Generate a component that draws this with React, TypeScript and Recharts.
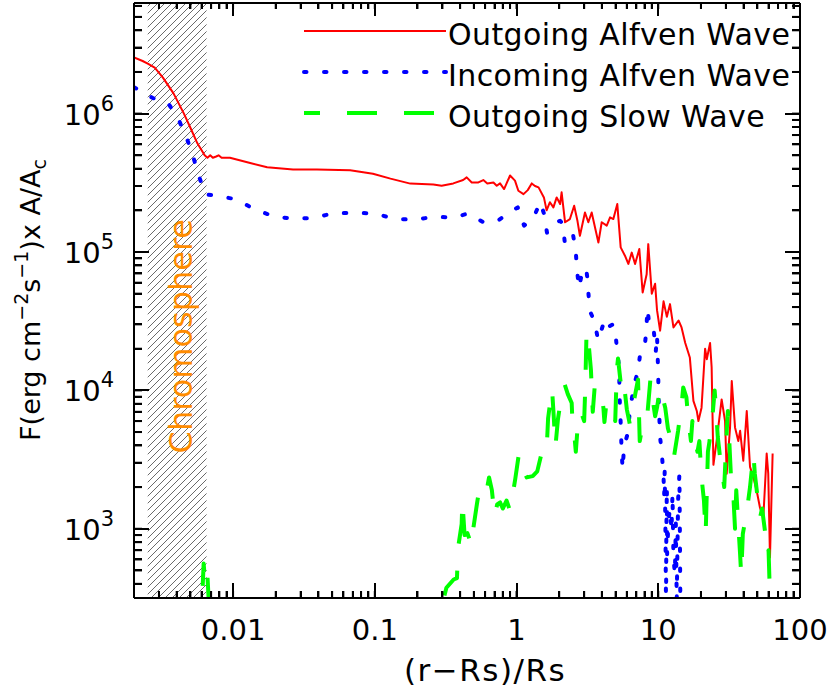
import React from "react";
import { LineChart, Line, XAxis, YAxis, ReferenceArea, Legend } from "recharts";

const FONT = "'DejaVu Sans', 'Liberation Sans', sans-serif";

// Outgoing Alfven wave
const outAlfR = [
  0.002, 0.0023, 0.0025, 0.0028, 0.0032, 0.0038, 0.0045, 0.005, 0.0056, 0.0063, 0.0066, 0.0069,
  0.0072, 0.0076, 0.0079, 0.0083, 0.0095, 0.0132, 0.0174, 0.0265, 0.039, 0.067, 0.097, 0.129,
  0.178, 0.259, 0.296, 0.358, 0.42, 0.445, 0.483, 0.538, 0.583, 0.622, 0.687, 0.725, 0.765,
  0.817, 0.9, 0.975, 1.03, 1.12, 1.2, 1.28, 1.35, 1.43, 1.56, 1.63, 1.72, 1.82, 1.92, 2.03,
  2.08, 2.2, 2.38, 2.55, 2.69, 2.8, 3.04, 3.21, 3.39, 3.78, 3.99, 4.33, 4.57, 4.82, 5.14,
  5.43, 5.82, 6.15, 6.5, 6.86, 7.35, 7.76, 8.28, 8.5, 9.0, 9.5, 9.8, 10.3, 10.9, 11.5, 12.1,
  12.8, 13.9, 14.6, 15.5, 16.7, 17.7, 18.7, 19.2, 20.2, 21.4, 22.0, 23.2, 23.8, 24.5, 25.8,
  28.0, 29.6, 30.4, 32.1, 33.0, 34.8, 36.7, 37.8, 39.8, 42.1, 44.4, 46.9, 49.4, 52.2, 55.1,
  58.2, 59.7, 61.4, 64.1,
];
const outAlfF = [
  2.55e6, 2.4e6, 2.3e6, 2.15e6, 1.82e6, 1.4e6, 1.0e6, 7.9e5, 6.1e5, 5.0e5, 4.8e5, 5.0e5,
  4.8e5, 4.9e5, 5.0e5, 4.8e5, 4.8e5, 4.4e5, 4.1e5, 3.94e5, 3.94e5, 3.9e5, 3.68e5, 3.39e5,
  3.12e5, 3.07e5, 3.01e5, 3.13e5, 3.31e5, 3.46e5, 3.18e5, 3.18e5, 3.31e5, 3.13e5, 3.18e5, 3.01e5, 3.13e5,
  2.85e5, 3.57e5, 3.28e5, 2.77e5, 2.62e5, 2.8e5, 3.13e5, 3.0e5, 2.93e5, 2.48e5, 2.0e5, 2.29e5, 2.1e5, 2.48e5, 2.22e5,
  2.7e5, 1.64e5, 1.73e5, 2.16e5, 1.68e5, 1.31e5, 1.93e5, 1.64e5, 1.93e5, 1.17e5, 1.64e5, 1.55e5, 1.78e5, 1.73e5, 2.22e5,
  1.08e5, 9.4e4, 8.2e4, 9.9e4, 8.2e4, 1.05e5, 5.1e4, 6.9e4, 1.14e5, 5.0e4, 5.9e4, 3.8e4, 2.7e4, 4.4e4, 3.4e4, 4.2e4,
  2.85e4, 3.2e4, 2.85e4, 2.2e4, 1.73e4, 8.4e3, 7.1e3, 6.0e3, 7.5e3, 2.0e4, 1.68e4, 2.2e4, 1.47e4, 2.9e3, 4.3e3,
  8.6e3, 6.0e3, 2.5e3, 5.4e3, 1.17e4, 5.4e3, 4.3e3, 5.1e3, 3.1e3, 7.1e3, 2.8e3, 2.35e3, 1.9e3, 1.42e3, 1.2e3,
  3.5e3, 2.5e3, 620, 3.5e3,
];

// Incoming Alfven wave
const inAlfR = [
  0.002, 0.0027, 0.0035, 0.0041, 0.0047, 0.0052, 0.0057, 0.0064, 0.0078, 0.0105, 0.014, 0.019,
  0.026, 0.036, 0.051, 0.071, 0.099, 0.137, 0.192, 0.266, 0.363, 0.455, 0.59, 0.753, 0.87,
  1.02, 1.13, 1.31, 1.47, 1.56, 1.64, 1.72, 1.84, 2.03, 2.12, 2.19, 2.36, 2.5, 2.62, 2.67,
  2.76, 2.85, 2.95, 3.09, 3.16, 3.2, 3.27, 3.35, 3.57, 3.76, 4.07, 4.3, 4.5, 4.79, 4.95, 5.1,
  5.3, 5.32, 5.37, 5.45, 5.5, 5.6, 5.75, 6.1, 6.3, 6.6, 6.75, 7.2, 7.4, 7.8, 8.0, 8.2, 8.4,
  8.7, 9.3, 9.6, 9.8, 9.9, 10.0, 10.05, 10.2, 10.3, 10.6, 10.9, 11.0, 11.1, 11.2, 11.25,
  11.3, 11.35, 11.4, 11.5, 11.55, 11.8, 12.1, 12.4, 12.6, 12.8, 13.1, 13.3, 13.5, 13.8, 14.1, 14.2,
  14.3, 14.4,
];
const inAlfF = [
  1.55e6, 1.3e6, 1.18e6, 9.2e5, 6.7e5, 5.0e5, 3.6e5, 2.6e5, 2.55e5, 2.4e5, 2.05e5, 1.82e5,
  1.74e5, 1.76e5, 1.9e5, 1.92e5, 1.9e5, 1.74e5, 1.71e5, 1.8e5, 1.77e5, 1.9e5, 1.63e5, 1.71e5, 1.9e5,
  2.1e5, 1.55e5, 1.74e5, 2.3e5, 1.9e5, 1.38e5, 1.5e5, 1.63e5, 1.68e5, 1.6e5, 1.17e5, 1.17e5, 1.35e5, 1.0e5, 7.4e4,
  5.5e4, 6.5e4, 7.1e4, 7.7e4, 6.5e4, 5.4e4, 4.0e4, 3.6e4, 3.1e4, 2.3e4, 2.95e4, 2.6e4, 2.9e4, 3.0e4, 2.8e4, 2.05e4,
  1.45e4, 1.05e4, 7.4e3, 5.4e3, 3.9e3, 2.7e3, 4.0e3, 4.9e3, 7.1e3, 9.5e3, 1.1e4, 1.38e4, 1.74e4, 1.9e4, 2.0e4, 2.6e4, 3.9e4,
  2.75e4, 2.7e4, 1.9e4, 2.5e4, 1.8e4, 1.25e4, 8.9e3, 6.0e3, 4.6e3, 3.5e3, 2.35e3, 1.7e3, 2.6e3, 1.28e3, 860,
  445, 280, 900, 2.0e3, 655, 1.14e3, 1.4e3, 965, 1.8e3, 620, 470, 1.1e3, 300, 1.6e3, 2.5e3, 1.0e3,
  336, 200,
];

// Outgoing slow wave
const slowR = [
  0.0058, 0.006, 0.0062, 0.0064, 0.0066, 0.0068, 0.007, 0.29, 0.303, 0.32, 0.36, 0.38, 0.386,
  0.41, 0.415, 0.43, 0.45, 0.485, 0.49, 0.525, 0.54, 0.58, 0.61, 0.64, 0.67, 0.7, 0.73, 0.766,
  0.8, 0.85, 0.9, 0.98, 1.04, 1.1, 1.18, 1.3, 1.4, 1.51, 1.57, 1.64, 1.67, 1.78, 1.83, 1.88,
  1.96, 2.09, 2.19, 2.3, 2.45, 2.5, 2.58, 2.62, 2.74, 2.85, 3.0, 3.05, 3.12, 3.2, 3.35, 3.45,
  3.57, 3.78, 4.0, 4.1, 4.17, 4.3, 4.6, 4.97, 5.1, 5.2, 5.4, 5.6, 5.8, 6.0, 6.3, 6.6, 7.2,
  7.4, 7.8, 8.3, 8.8, 9.2, 9.5, 9.8, 10.3, 11.2, 11.7, 12.2, 12.9, 13.8, 14.7, 15.0, 15.8,
  16.2, 17.0, 17.4, 18.0, 18.9, 19.5, 20.2, 21.0, 21.6, 22.4, 23.0, 24.3, 25.0, 25.6, 26.3,
  27.6, 28.5, 29.2, 30.5, 31.0, 31.7, 32.5, 33.2, 34.0, 34.8, 35.5, 37.8, 38.5, 39.5, 42.0,
  44.4, 46.9, 48.0, 50.5, 52.2, 54.0, 57.0, 59.0, 60.0, 61.0, 62.5, 63.5,
];
const slowF = [
  150, 250, 560, 380, 450, 250, 150, 150, 300, 375, 430, 440, 716,
  1.08e3, 1.6e3, 900, 930, 750, 930, 1.5e3, 1.8e3, 2.0e3, 1.8e3, 2.35e3, 1.9e3, 1.23e3, 1.5e3, 1.55e3,
  1.4e3, 1.6e3, 1.35e3, 2.3e3, 3.5e3, 2.8e3, 2.35e3, 2.4e3, 2.6e3, 3.6e3, 3.4e3, 4.2e3, 6.3e3, 1.03e4, 6.5e3, 3.9e3,
  6.2e3, 9.6e3, 1.1e4, 9.4e3, 8.1e3, 4.9e3, 4.3e3, 3.6e3, 6.8e3, 7.0e3, 6.0e3, 1.0e4, 2.7e4, 2.4e4, 1.4e4, 7.0e3,
  1.1e4, 1.0e4, 8.8e3, 7.5e3, 5.9e3, 8.0e3, 8.2e3, 6.0e3, 1.4e4, 1.7e4, 1.2e4, 8.9e3, 1.0e4, 7.3e3, 5.7e3, 7.5e3, 1.2e4,
  4.3e3, 5.8e3, 6.0e3, 1.2e4, 8.2e3, 6.5e3, 7.5e3, 1.05e4, 7.5e3, 5.3e3, 4.6e3, 3.3e3, 5.1e3, 8.4e3, 1.05e4, 8.9e3,
  6.5e3, 4.3e3, 6.0e3, 4.6e3, 3.6e3, 4.3e3, 2.35e3, 1.6e3, 920, 3.6e3, 4.3e3, 7.1e3, 1.0e4, 7.1e3, 4.6e3,
  2.95e3, 2.4e3, 2.0e3, 5.4e3, 7.1e3, 4.3e3, 2.5e3, 2.0e3, 1.6e3, 1.0e3, 1.9e3, 650, 460, 920, 1.3e3,
  2.0e3, 3.5e3, 2.5e3, 1.6e3, 1.2e3, 1.4e3, 910, 650, 700, 400, 300, 250,
];

const X_DOMAIN: [number, number] = [0.002, 100];
const Y_DOMAIN: [number, number] = [316, 6.3e6];
const CHROMO: [number, number] = [0.0025, 0.0065];

const SERIES = [
  { name: "Outgoing Alfven Wave", color: "#ff0000", width: 2, dash: undefined as string | undefined, cap: "butt", legendOffset: 0 },
  { name: "Incoming Alfven Wave", color: "#0000ff", width: 4, dash: "2.5 17.5", cap: "round", legendOffset: 0 },
  { name: "Outgoing Slow Wave", color: "#00ff00", width: 4, dash: "30 27", cap: "butt", legendOffset: 14 },
];

const zip = (r: number[], f: number[]) => r.map((v, i) => ({ r: v, f: f[i] }));
const outAlfData = zip(outAlfR, outAlfF);
const inAlfData = zip(inAlfR, inAlfF);
const slowData = zip(slowR, slowF);
const seriesData = [outAlfData, inAlfData, slowData];

// chart box
const W = 830;
const H = 692;
const AX_LEFT = 134;
const AX_RIGHT = 30;
const AX_BOTTOM = 94;
const AX_TOP = 3;
const PLOT = { l: AX_LEFT, r: W - AX_RIGHT, t: AX_TOP, b: H - AX_BOTTOM };
const MINOR = 7; // inward tick length drawn by the axes themselves

// log ticks: 1..9 x each decade inside the domain
function logTicks(lo: number, hi: number) {
  const out: number[] = [];
  for (let e = -4; e <= 8; e++) {
    for (let m = 1; m <= 9; m++) {
      const v = Number((m * Math.pow(10, e)).toPrecision(3));
      if (v > lo * 1.0001 && v <= hi * 1.0001) out.push(v);
    }
  }
  return out;
}
const xTicks = logTicks(X_DOMAIN[0], X_DOMAIN[1]);
const yTicks = logTicks(Y_DOMAIN[0], Y_DOMAIN[1]);

const isMajor = (v: number) => {
  const l = Math.log10(v);
  return Math.abs(l - Math.round(l)) < 1e-6;
};

// longer marks for the decades
const logPos = (v: number, d: [number, number], a: number, b: number) =>
  Math.round(a + ((Math.log10(v) - Math.log10(d[0])) / (Math.log10(d[1]) - Math.log10(d[0]))) * (b - a));

function FrameTicks() {
  const rects: React.ReactNode[] = [];
  xTicks.forEach((v, i) => {
    const x = logPos(v, X_DOMAIN, PLOT.l, PLOT.r);
    const m = isMajor(v);
    const lb = m ? 15 : 7;
    const lt = m ? 13 : 6;
    rects.push(<rect key={`xb${i}`} x={x - 1} y={PLOT.b - lb} width={2} height={lb} fill="#000" />);
    rects.push(<rect key={`xt${i}`} x={x - 1} y={PLOT.t} width={2} height={lt} fill="#000" />);
  });
  yTicks.forEach((v, i) => {
    const y = logPos(v, Y_DOMAIN, PLOT.b, PLOT.t);
    const len = isMajor(v) ? 15 : 8;
    rects.push(<rect key={`yl${i}`} x={PLOT.l} y={y - 1} width={len} height={2} fill="#000" />);
    rects.push(<rect key={`yr${i}`} x={PLOT.r - len} y={y - 1} width={len} height={2} fill="#000" />);
  });
  return <g>{rects}</g>;
}

function NoLabel() {
  return <g />;
}

function BottomLabel(props: any) {
  const { payload } = props;
  if (!isMajor(payload.value)) return <g />;
  return (
    <text x={payload.coordinate} y={PLOT.b + 42} textAnchor="middle" fontSize={29} fontFamily={FONT} fill="#000">
      {String(payload.value)}
    </text>
  );
}

function LeftLabel(props: any) {
  const { payload } = props;
  if (!isMajor(payload.value)) return <g />;
  const exp = Math.round(Math.log10(payload.value));
  return (
    <text x={PLOT.l - 20} y={payload.coordinate + 11} textAnchor="end" fontSize={29} fontFamily={FONT} fill="#000">
      10
      <tspan dy={-14} fontSize={21}>{exp}</tspan>
    </text>
  );
}

function ChromoLabel(props: any) {
  const vb = props.viewBox || { x: 148, y: 3, width: 58, height: 595 };
  const cx = vb.x + vb.width / 2 + 3;
  const cy = vb.y + vb.height * 0.56;
  return (
    <text
      x={cx}
      y={cy}
      transform={`rotate(-90 ${cx} ${cy})`}
      textAnchor="middle"
      dy="0.36em"
      fontSize={32}
      fontFamily={FONT}
      fill="#ff8c00"
    >
      Chromosphere
    </text>
  );
}

function WaveLegend() {
  return (
    <svg width={W} height={140} style={{ display: "block" }}>
      {SERIES.map((s, i) => {
        const y = 31 + i * 41;
        return (
          <g key={s.name}>
            <line
              x1={304}
              x2={446}
              y1={y}
              y2={y}
              stroke={s.color}
              strokeWidth={s.width}
              strokeDasharray={s.dash}
              strokeDashoffset={s.legendOffset}
              strokeLinecap={s.cap as any}
            />
            <text x={448} y={y + 14} fontSize={30} fontFamily={FONT} fill="#000" letterSpacing={0.4}>
              {s.name}
            </text>
          </g>
        );
      })}
    </svg>
  );
}

const AXIS_LINE = { stroke: "#000", strokeWidth: 2 };
const TICK_LINE = { stroke: "#000", strokeWidth: 2 };

export default function App() {
  return (
    <div style={{ position: "absolute", left: 0, top: 0, background: "#fff" }}>
      <LineChart width={W} height={H} margin={{ top: 0, right: 0, bottom: 0, left: 0 }}>
        <defs>
          <pattern id="hatch" patternUnits="userSpaceOnUse" width="7" height="7">
            <path d="M-1,1 l2,-2 M0,7 l7,-7 M6,8 l2,-2" stroke="#444" strokeWidth="0.8" />
          </pattern>
        </defs>
        <XAxis
          dataKey="r"
          type="number"
          scale="log"
          domain={X_DOMAIN}
          allowDataOverflow
          ticks={xTicks}
          interval={0}
          tick={BottomLabel}
          tickLine={TICK_LINE}
          tickSize={-MINOR}
          tickMargin={0}
          height={AX_BOTTOM}
          axisLine={AXIS_LINE}
        />
        <XAxis
          xAxisId="top"
          orientation="top"
          dataKey="r"
          type="number"
          scale="log"
          domain={X_DOMAIN}
          allowDataOverflow
          ticks={xTicks}
          interval={0}
          tick={NoLabel}
          tickLine={TICK_LINE}
          tickSize={-6}
          tickMargin={0}
          height={AX_TOP}
          axisLine={AXIS_LINE}
        />
        <YAxis
          type="number"
          scale="log"
          domain={Y_DOMAIN}
          allowDataOverflow
          ticks={yTicks}
          interval={0}
          tick={LeftLabel}
          tickLine={TICK_LINE}
          tickSize={-8}
          tickMargin={0}
          width={AX_LEFT}
          axisLine={AXIS_LINE}
        />
        <YAxis
          yAxisId="right"
          orientation="right"
          type="number"
          scale="log"
          domain={Y_DOMAIN}
          allowDataOverflow
          ticks={yTicks}
          interval={0}
          tick={NoLabel}
          tickLine={TICK_LINE}
          tickSize={-8}
          tickMargin={0}
          width={AX_RIGHT}
          axisLine={AXIS_LINE}
        />
        <ReferenceArea
          x1={CHROMO[0]}
          x2={CHROMO[1]}
          fill="url(#hatch)"
          fillOpacity={1}
          stroke="none"
          label={{ content: (p: any) => <ChromoLabel {...p} /> }}
        />
        {SERIES.map((s, i) => (
          <Line
            key={s.name}
            data={seriesData[i]}
            dataKey="f"
            name={s.name}
            type="linear"
            stroke={s.color}
            strokeWidth={s.width}
            strokeDasharray={s.dash}
            strokeLinecap={s.cap as any}
            strokeLinejoin="round"
            dot={false}
            activeDot={false}
            isAnimationActive={false}
          />
        ))}
        <Legend
          layout="horizontal"
          verticalAlign="middle"
          align="center"
          wrapperStyle={{ left: 0, top: 0, width: W, height: 140 }}
          content={<WaveLegend />}
        />
      </LineChart>
      <svg
        width={W}
        height={H}
        style={{ position: "absolute", left: 0, top: 0, pointerEvents: "none" }}
      >
        <FrameTicks />
        <text
          transform="rotate(-90)"
          x={-300}
          y={40}
          textAnchor="middle"
          fontSize={27}
          fontFamily={FONT}
          fill="#000"
        >
          F(erg cm
          <tspan dy={-12} fontSize={19}>−2</tspan>
          <tspan dy={12} fontSize={27}>s</tspan>
          <tspan dy={-12} fontSize={19}>−1</tspan>
          <tspan dy={12} fontSize={27}>)x A/A</tspan>
          <tspan dy={6} fontSize={19}>c</tspan>
        </text>
        <text x={485} y={681} textAnchor="middle" fontSize={31} fontFamily={FONT} fill="#000" letterSpacing={1.5}>
          (r−Rs)/Rs
        </text>
      </svg>
    </div>
  );
}
